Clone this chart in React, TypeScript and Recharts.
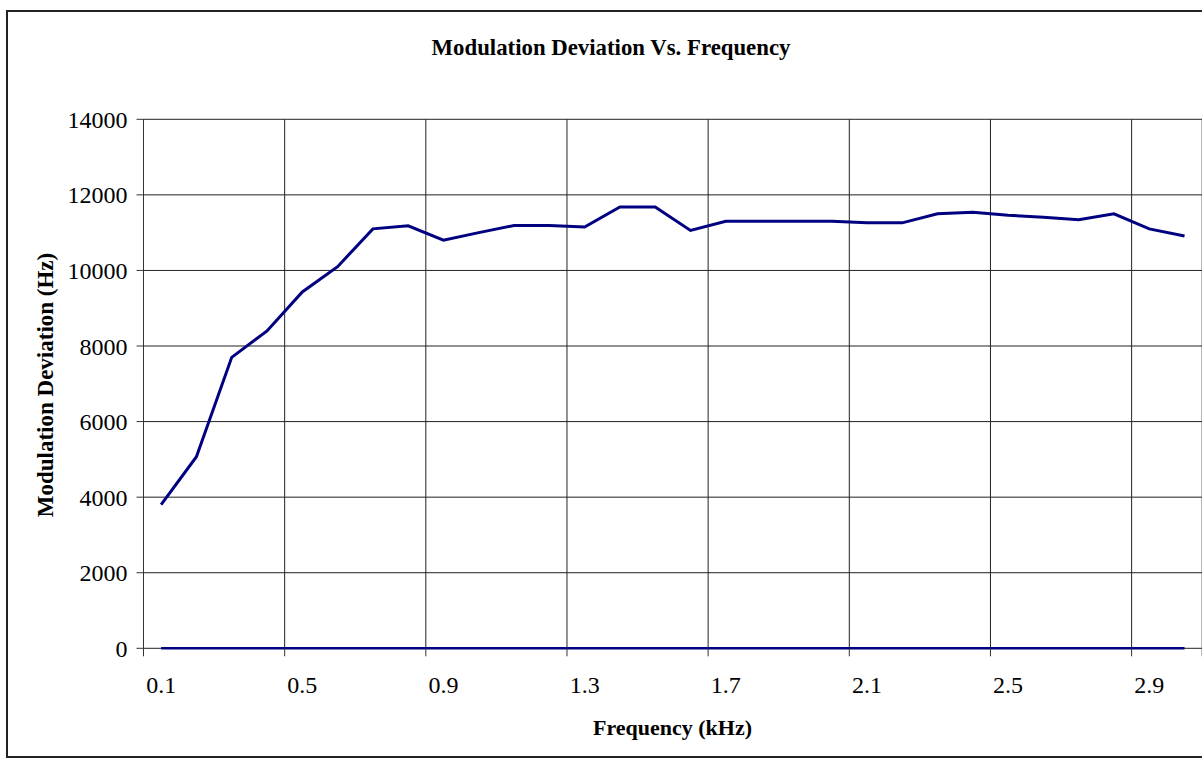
import React from 'react';
import { LineChart, Line, XAxis, YAxis, CartesianGrid } from 'recharts';

const frequencies = [0.1, 0.2, 0.3, 0.4, 0.5, 0.6, 0.7, 0.8, 0.9, 1.0, 1.1, 1.2, 1.3, 1.4, 1.5, 1.6, 1.7, 1.8, 1.9, 2.0, 2.1, 2.2, 2.3, 2.4, 2.5, 2.6, 2.7, 2.8, 2.9, 3.0];
const deviation = [3800, 5070, 7700, 8400, 9430, 10100, 11100, 11180, 10800, 11000, 11190, 11190, 11150, 11680, 11680, 11060, 11300, 11300, 11300, 11300, 11260, 11260, 11500, 11540, 11460, 11410, 11340, 11500, 11100, 10910];
const baseline = [0, 0, 0, 0, 0, 0, 0, 0, 0, 0, 0, 0, 0, 0, 0, 0, 0, 0, 0, 0, 0, 0, 0, 0, 0, 0, 0, 0, 0, 0];
const xTickLabels = [0.1, 0.5, 0.9, 1.3, 1.7, 2.1, 2.5, 2.9];
const xCategoryBounds = [0.05, 0.45, 0.85, 1.25, 1.65, 2.05, 2.45, 2.85, 3.05];
const yTicks = [0, 2000, 4000, 6000, 8000, 10000, 12000, 14000];

const data = frequencies.map((f, i) => ({ f, dev: deviation[i], base: baseline[i] }));

const FONT = '"Liberation Serif", "Times New Roman", serif';

export default function App() {
  return (
    <div style={{ position: 'absolute', left: 0, top: 0, width: 1202, height: 760, overflow: 'hidden', background: '#fff' }}>
      <div style={{ position: 'absolute', left: 6, top: 10, width: 1260, height: 748, border: '2px solid #222', boxSizing: 'border-box' }} />
      <div style={{ position: 'absolute', left: 0, top: 0 }}>
        <LineChart
          width={1260}
          height={760}
          data={data}
          margin={{ top: 119.3, right: 57.8, bottom: 109.7, left: 63.5 }}
        >
          <CartesianGrid xAxisId="grid" stroke="#222" strokeWidth={1} />
          <XAxis
            xAxisId="grid"
            dataKey="f"
            type="number"
            domain={[0.05, 3.05]}
            ticks={xCategoryBounds}
            tickFormatter={() => ''}
            interval={0}
            height={1}
            tickSize={8}
            axisLine={false}
            tickLine={{ stroke: '#333' }}
            allowDataOverflow
          />
          <XAxis
            xAxisId="labels"
            dataKey="f"
            type="number"
            domain={[0.05, 3.05]}
            ticks={xTickLabels}
            interval={0}
            height={1}
            axisLine={false}
            tickLine={false}
            tickSize={8}
            tickMargin={19}
            tick={{ fill: '#000', fontSize: 24, fontFamily: FONT }}
            allowDataOverflow
          />
          <YAxis
            domain={[0, 14000]}
            ticks={yTicks}
            width={80}
            tickSize={7}
            tickMargin={9}
            stroke="#333"
            tick={{ fill: '#000', fontSize: 24, fontFamily: FONT }}
          />
          <Line xAxisId="labels" dataKey="base" stroke="#000080" strokeWidth={2.5} dot={false} isAnimationActive={false} />
          <Line xAxisId="labels" dataKey="dev" stroke="#000080" strokeWidth={3} dot={false} isAnimationActive={false} />
        </LineChart>
      </div>
      <svg width={1202} height={760} style={{ position: 'absolute', left: 0, top: 0, pointerEvents: 'none' }}>
        <text x={611} y={55} textAnchor="middle" fontFamily={FONT} fontWeight="bold" fontSize={22.8} fill="#000">
          Modulation Deviation Vs. Frequency
        </text>
        <text x={672.5} y={735} textAnchor="middle" fontFamily={FONT} fontWeight="bold" fontSize={22} fill="#000">
          Frequency (kHz)
        </text>
        <text transform="translate(52.5,385) rotate(-90)" textAnchor="middle" fontFamily={FONT} fontWeight="bold" fontSize={23} fill="#000">
          Modulation Deviation (Hz)
        </text>
      </svg>
    </div>
  );
}
